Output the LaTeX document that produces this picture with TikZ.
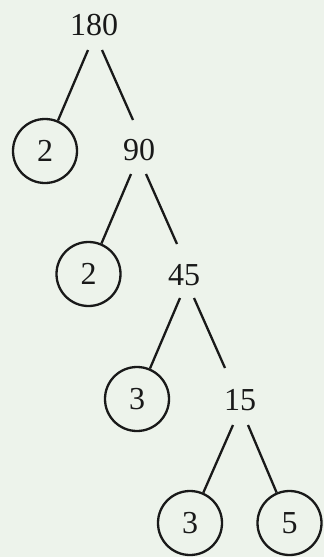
\documentclass[tikz,border=0pt]{standalone}
\usepackage{fontspec}
\setmainfont{Liberation Serif}
\definecolor{bg}{RGB}{237,243,235}
\definecolor{ink}{RGB}{25,25,25}
\begin{document}
\begin{tikzpicture}[x=1pt,y=-1pt,
  num/.style={inner sep=0pt,text=ink,font=\fontsize{32}{32}\selectfont},
  prime/.style={circle,draw=ink,line width=2.3pt,minimum size=64pt,inner sep=0pt,text=ink,font=\fontsize{32}{32}\selectfont},
  branch/.style={draw=ink,line width=2.3pt}]
\fill[bg] (0,0) rectangle (324,557);
\useasboundingbox (0,0) rectangle (324,557);
\node[num] (n180) at (94,25) {180};
\node[prime] (c1) at (45,151) {2};
\node[num] (n90) at (139,150) {90};
\node[prime] (c2) at (88.5,274) {2};
\node[num] (n45) at (184,275) {45};
\node[prime] (c3) at (137,399) {3};
\node[num] (n15) at (240,400) {15};
\node[prime] (c4) at (190,523) {3};
\node[prime] (c5) at (289.5,523) {5};
\draw[branch] ([shift={(-6,25)}]n180.center) -- (c1);
\draw[branch] ([shift={(8,25)}]n180.center) -- ([shift={(-6,-30)}]n90.center);
\draw[branch] ([shift={(-8,24)}]n90.center) -- (c2);
\draw[branch] ([shift={(7,24)}]n90.center) -- ([shift={(-7,-31)}]n45.center);
\draw[branch] ([shift={(-4,23)}]n45.center) -- (c3);
\draw[branch] ([shift={(10,23)}]n45.center) -- ([shift={(-15,-32)}]n15.center);
\draw[branch] ([shift={(-7,25)}]n15.center) -- (c4);
\draw[branch] ([shift={(8,25)}]n15.center) -- (c5);
\end{tikzpicture}
\end{document}
